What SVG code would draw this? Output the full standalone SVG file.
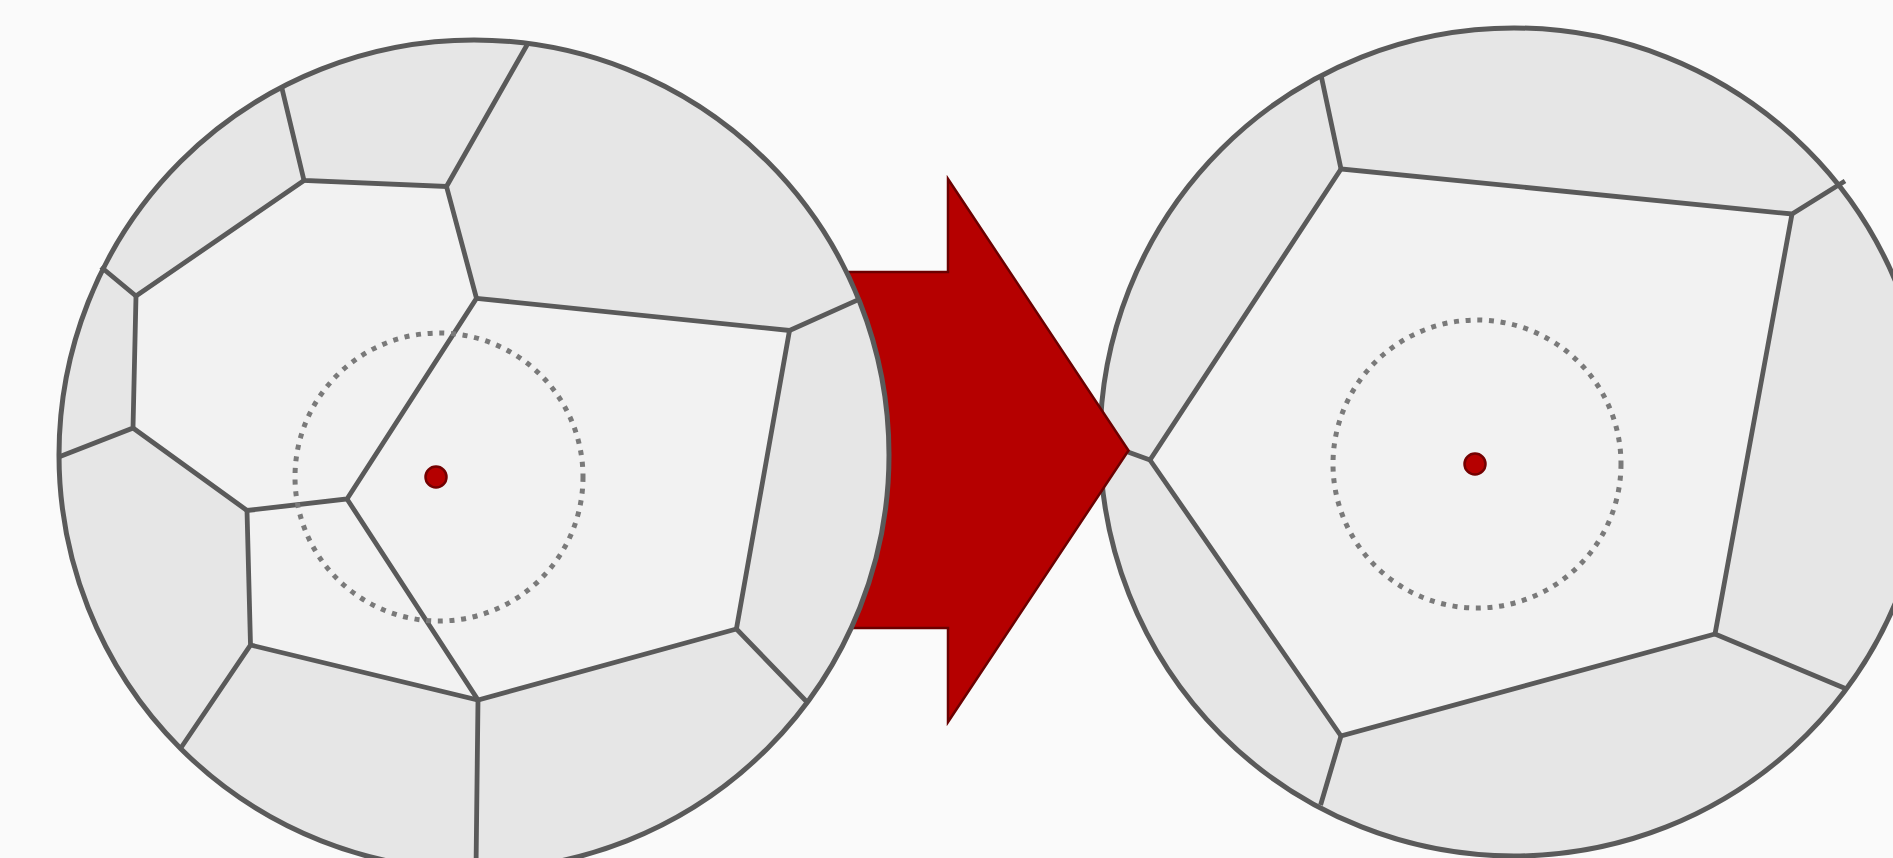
<svg xmlns="http://www.w3.org/2000/svg" width="1893" height="858" viewBox="0 0 1893 858">
<style>
.ring{fill:#e6e6e6;stroke:none}
.rim{fill:none;stroke:#5a5a5a;stroke-width:5}
.cell{fill:#f2f2f2;stroke:none}
.edge{fill:none;stroke:#5a5a5a;stroke-width:4.8;stroke-linejoin:miter;stroke-linecap:butt}
.dash{fill:none;stroke:#7a7a7a;stroke-width:5;stroke-dasharray:5 6.7}
.dot{fill:#b50000;stroke:#740000;stroke-width:2.5}
.arrow{fill:#b50000;stroke:#6b0000;stroke-width:2.5}
</style>
<rect width="1893" height="858" fill="#fafafa"/>

<g id="right-circle">
  <circle class="ring" cx="1514" cy="442" r="414"/>
  <polygon class="cell" points="1341,169 1792,214 1715,634 1341,736 1150,460"/>
  <g id="right-edges">
    <polyline class="edge" points="1321,75 1341,169 1792,214 1845,181"/>
    <polyline class="edge" points="1792,214 1715,634 1846.5,689"/>
    <polyline class="edge" points="1715,634 1341,736 1320.6,805"/>
    <polyline class="edge" points="1341,736 1150,460 1341,169"/>
    <line class="edge" x1="1150" y1="460" x2="1128" y2="452"/>
  </g>
  <circle class="rim" cx="1514" cy="442" r="414"/>
  <circle class="dash" cx="1477" cy="464" r="144"/>
  <circle class="dot" cx="1475" cy="464" r="10.5"/>
</g>

<g id="arrow">
  <polygon class="arrow" points="700,272 948,272 948,179 1128.5,450.5 948,722 948,628 700,628"/>
</g>

<g id="left-circle">
  <circle class="ring" cx="474" cy="455" r="415"/>
  <polygon class="cell" points="304,180.5 136,296 133,428 247,510.5 250.5,645 478,700 736.4,629 789.5,330.5 476.5,298.3 446.5,186.5"/>
  <g id="left-edges">
    <polyline class="edge" points="527,45 446.5,186.5 304,180.5 281.5,86.5"/>
    <polyline class="edge" points="304,180.5 136,296 101,267"/>
    <polyline class="edge" points="136,296 133,428 60,456.5"/>
    <polyline class="edge" points="133,428 247,510.5 347,499 476.5,298.3 446.5,186.5"/>
    <polyline class="edge" points="476.5,298.3 789.5,330.5 859,299.4"/>
    <polyline class="edge" points="789.5,330.5 736.4,629 806,701"/>
    <polyline class="edge" points="247,510.5 250.5,645 181.5,747"/>
    <polyline class="edge" points="250.5,645 478,700 736.4,629"/>
    <polyline class="edge" points="347,499 478,700 476,870"/>
  </g>
  <circle class="rim" cx="474" cy="455" r="415"/>
  <circle class="dash" cx="439" cy="477" r="144"/>
  <circle class="dot" cx="436" cy="477" r="10.5"/>
</g>
</svg>
